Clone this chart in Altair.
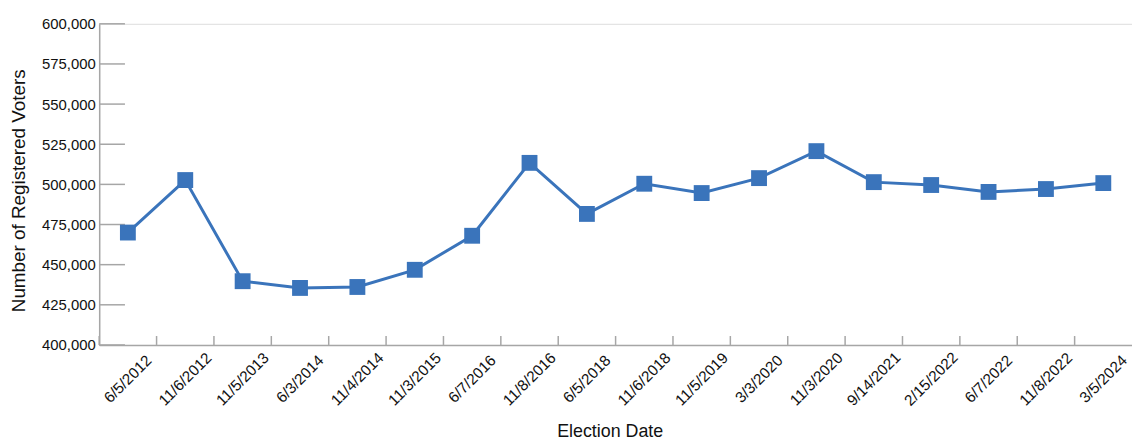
import altair as alt
import pandas as pd

dates = ["6/5/2012", "11/6/2012", "11/5/2013", "6/3/2014", "11/4/2014", "11/3/2015",
         "6/7/2016", "11/8/2016", "6/5/2018", "11/6/2018", "11/5/2019", "3/3/2020",
         "11/3/2020", "9/14/2021", "2/15/2022", "6/7/2022", "11/8/2022", "3/5/2024"]
voters = [470000, 502700, 439700, 435500, 436100, 446800,
          468000, 513400, 481600, 500400, 494600, 503900,
          520700, 501400, 499600, 495300, 497100, 500800]
y_ticks = [400000, 425000, 450000, 475000, 500000, 525000, 550000, 575000, 600000]

FONT = "Liberation Sans"
BLUE = "#3a74bb"
GRAY = "#a6a6a6"

df = pd.DataFrame({"date": dates, "voters": voters})
ticks_df = pd.DataFrame({"v": y_ticks})
cats_df = pd.DataFrame({"date": dates})

W, H = 1042, 324

x_scale = alt.Scale(type="band", domain=dates, paddingInner=0, paddingOuter=0)
x_enc = alt.X("date:N", sort=dates, scale=x_scale,
              axis=alt.Axis(title="Election Date", labelAngle=-45, labelAlign="center",
                            labelBaseline="middle", labelPadding=34, ticks=False,
                            domainColor=GRAY, domainWidth=1.5, labelFont=FONT,
                            labelFontSize=15.5, labelColor="#111111",
                            titleFont=FONT, titleFontSize=18, titleFontWeight="normal",
                            titleColor="#111111", titleX=515, titleY=87,
                            titleBaseline="middle", titleAlign="center", grid=False))
y_scale = alt.Scale(domain=[400000, 600000], nice=False, zero=False)
y_enc = alt.Y("voters:Q", scale=y_scale,
              axis=alt.Axis(title="Number of Registered Voters", values=y_ticks, format=",d",
                            ticks=False, domainColor=GRAY, domainWidth=1.5, labelPadding=4,
                            labelFont=FONT, labelFontSize=15, labelColor="#111111",
                            titleFont=FONT, titleFontSize=19, titleFontWeight="normal",
                            titleColor="#111111", titleX=-81, titleY=168, titleAngle=-90,
                            titleBaseline="middle", titleAlign="center", grid=False))

line = alt.Chart(df).mark_line(color=BLUE, strokeWidth=3).encode(x=x_enc, y=y_enc)
pts = alt.Chart(df).mark_point(shape="square", filled=True, size=256, color=BLUE, opacity=1).encode(
    x=alt.X("date:N", sort=dates, scale=x_scale), y=alt.Y("voters:Q", scale=y_scale))

ytick_rules = alt.Chart(ticks_df).mark_rule(color=GRAY, strokeWidth=1.5).encode(
    y=alt.Y("v:Q", scale=y_scale), x=alt.value(0), x2=alt.value(26))
xtick_rules = alt.Chart(cats_df).mark_rule(color=GRAY, strokeWidth=1.5).encode(
    x=alt.X("date:N", sort=dates, scale=x_scale, bandPosition=0),
    y=alt.value(H - 9), y2=alt.value(H))

chart = alt.layer(ytick_rules, xtick_rules, line, pts).properties(
    width=W, height=H,
    autosize=alt.AutoSizeParams(type="none"),
    padding={"left": 92, "top": 14, "right": 0, "bottom": 100},
).configure_view(stroke=None).configure(background="white")

chart.save("out.html", embed_options={"renderer": "svg", "actions": False})
